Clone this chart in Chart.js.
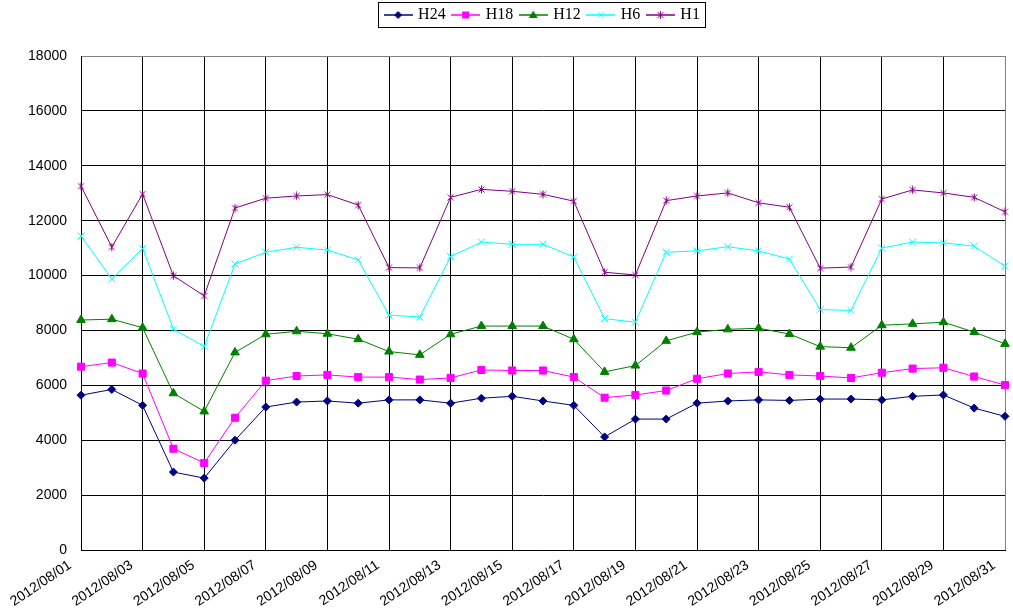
<!DOCTYPE html>
<html>
<head>
<meta charset="utf-8">
<script src="https://cdn.jsdelivr.net/npm/chart.js@4.4.0/dist/chart.umd.min.js"></script>
<style>
html, body { margin: 0; padding: 0; background: #fff; }
#wrap { width: 1013px; height: 613px; position: relative; }
</style>
</head>
<body>
<div id="wrap"><canvas id="chart"></canvas></div>
<script>
var days = ['2012/08/01', '2012/08/02', '2012/08/03', '2012/08/04', '2012/08/05', '2012/08/06',
    '2012/08/07', '2012/08/08', '2012/08/09', '2012/08/10', '2012/08/11', '2012/08/12',
    '2012/08/13', '2012/08/14', '2012/08/15', '2012/08/16', '2012/08/17', '2012/08/18',
    '2012/08/19', '2012/08/20', '2012/08/21', '2012/08/22', '2012/08/23', '2012/08/24',
    '2012/08/25', '2012/08/26', '2012/08/27', '2012/08/28', '2012/08/29', '2012/08/30',
    '2012/08/31'];

var h24 = [5640, 5850, 5270, 2840, 2620, 4000, 5210, 5390, 5430, 5350, 5470, 5470, 5350, 5530, 5600, 5430,
    5270, 4120, 4770, 4770, 5350, 5430, 5470, 5450, 5500, 5500, 5470, 5600, 5650, 5170, 4870];
var h18 = [6680, 6830, 6430, 3690, 3170, 4820, 6170, 6340, 6380, 6300, 6300, 6210, 6270, 6560, 6540, 6540,
    6300, 5550, 5650, 5810, 6240, 6430, 6490, 6380, 6340, 6270, 6460, 6610, 6640, 6320, 6010];
var h12 = [8380, 8410, 8100, 5710, 5050, 7200, 7860, 7970, 7880, 7680, 7230, 7110, 7860, 8160, 8160, 8160,
    7680, 6490, 6720, 7620, 7940, 8040, 8080, 7870, 7410, 7370, 8190, 8240, 8300, 7940, 7510];
var h6 = [11440, 9880, 10990, 8050, 7410, 10420, 10850, 11030, 10930, 10570, 8560, 8490, 10690, 11220, 11140, 11140,
    10680, 8430, 8300, 10850, 10900, 11050, 10900, 10600, 8760, 8730, 11000, 11220, 11190, 11070, 10340];
var h1 = [13260, 11040, 12970, 9990, 9260, 12460, 12820, 12900, 12950, 12570, 10290, 10280, 12850, 13140, 13070, 12960,
    12710, 10120, 10020, 12730, 12900, 13010, 12650, 12490, 10270, 10310, 12790, 13120, 13010, 12850, 12320];

var yTicks = [0, 2000, 4000, 6000, 8000, 10000, 12000, 14000, 16000, 18000];

// draw one marker shape on a 2d context, centred at (cx, cy)
function drawMark(c, kind, color, cx, cy) {
    c.fillStyle = color;
    c.strokeStyle = color;
    c.lineWidth = 1;
    c.beginPath();
    if (kind === 'diamond') {
        c.moveTo(cx - 4, cy); c.lineTo(cx, cy - 4); c.lineTo(cx + 4, cy); c.lineTo(cx, cy + 4);
        c.closePath(); c.fill();
    } else if (kind === 'square') {
        c.fillRect(cx - 3.5, cy - 3.5, 7, 7);
    } else if (kind === 'triangle') {
        c.moveTo(cx, cy - 4.5); c.lineTo(cx + 4.5, cy + 3); c.lineTo(cx - 4.5, cy + 3);
        c.closePath(); c.fill();
    } else if (kind === 'x') {
        c.moveTo(cx - 3, cy - 3); c.lineTo(cx + 3, cy + 3);
        c.moveTo(cx + 3, cy - 3); c.lineTo(cx - 3, cy + 3);
        c.stroke();
    } else if (kind === 'star') {
        c.moveTo(cx - 3, cy - 3); c.lineTo(cx + 3, cy + 3);
        c.moveTo(cx + 3, cy - 3); c.lineTo(cx - 3, cy + 3);
        c.moveTo(cx, cy - 4); c.lineTo(cx, cy + 4);
        c.stroke();
    }
}

function legendIcon(kind, color) {
    var cv = document.createElement('canvas');
    cv.width = 29; cv.height = 12;
    var c = cv.getContext('2d');
    c.strokeStyle = color;
    c.lineWidth = 1.5;
    c.beginPath(); c.moveTo(0, 6); c.lineTo(29, 6); c.stroke();
    drawMark(c, kind, color, 14.5, 6);
    return cv;
}

function starPoint(color) {
    var cv = document.createElement('canvas');
    cv.width = 9; cv.height = 9;
    drawMark(cv.getContext('2d'), 'star', color, 4.5, 4.5);
    return cv;
}

var kinds = ['diamond', 'square', 'triangle', 'x', 'star'];
var colors = ['#000080', '#ff00ff', '#008000', '#00ffff', '#800080'];

// move the legend to the top, centre it over the plot area and box it
var legendBorder = {
    id: 'legendBorder',
    afterLayout: function (chart) {
        var lg = chart.legend;
        lg.left = chart.chartArea.left;
        lg.right = chart.chartArea.right;
        lg.top = -1;
        lg.bottom = lg.top + lg.height;
    },
    afterDraw: function (chart) {
        var boxes = chart.legend.legendHitBoxes;
        if (!boxes || !boxes.length) return;
        var last = boxes[boxes.length - 1];
        var l = Math.round(boxes[0].left) - 8;
        var r = Math.round(last.left + last.width) + 5;
        var t = Math.round(boxes[0].top) - 5;
        var b = Math.round(boxes[0].top + boxes[0].height) + 4;
        var ctx = chart.ctx;
        ctx.save();
        ctx.strokeStyle = '#000';
        ctx.lineWidth = 1;
        ctx.strokeRect(l + 0.5, t + 0.5, r - l, b - t);
        ctx.restore();
    }
};

var ctx = document.getElementById('chart').getContext('2d');

new Chart(ctx, {
    type: 'line',
    data: {
        labels: days,
        datasets: [{
            label: 'H24', data: h24, borderColor: colors[0], backgroundColor: colors[0],
            pointStyle: 'rectRot', pointRadius: 4
        }, {
            label: 'H18', data: h18, borderColor: colors[1], backgroundColor: colors[1],
            pointStyle: 'rect', pointRadius: 5
        }, {
            label: 'H12', data: h12, borderColor: colors[2], backgroundColor: colors[2],
            pointStyle: 'triangle', pointRadius: 5
        }, {
            label: 'H6', data: h6, borderColor: colors[3], backgroundColor: colors[3],
            pointStyle: 'crossRot', pointRadius: 5
        }, {
            label: 'H1', data: h1, borderColor: colors[4], backgroundColor: colors[4],
            pointStyle: starPoint(colors[4])
        }]
    },
    options: {
        responsive: true,
        maintainAspectRatio: false,
        animation: false,
        layout: { padding: { top: 0, right: 0, left: 0, bottom: 0 } },
        elements: {
            line: { borderWidth: 1, tension: 0, fill: false },
            point: { borderWidth: 1, hoverRadius: 5 }
        },
        plugins: {
            tooltip: { enabled: false },
            legend: {
                position: 'top',
                labels: {
                    usePointStyle: true,
                    pointStyleWidth: 24,
                    padding: 8,
                    color: '#000',
                    font: { family: '"Liberation Serif", serif', size: 16 },
                    generateLabels: function (chart) {
                        return chart.data.datasets.map(function (ds, i) {
                            return {
                                text: ds.label,
                                pointStyle: legendIcon(kinds[i], colors[i]),
                                fillStyle: colors[i],
                                strokeStyle: colors[i],
                                lineWidth: 0,
                                fontColor: '#000',
                                hidden: false,
                                datasetIndex: i
                            };
                        });
                    }
                }
            }
        },
        scales: {
            x: {
                offset: false,
                grid: {
                    drawTicks: false,
                    color: function (c) {
                        if (c.index % 2 !== 0) return 'rgba(0,0,0,0)';
                        return c.index === days.length - 1 ? '#808080' : '#000';
                    }
                },
                border: { color: '#000' },
                ticks: {
                    autoSkip: false,
                    minRotation: 34,
                    maxRotation: 34,
                    padding: 7,
                    labelOffset: -11,
                    color: '#000',
                    font: { family: '"Liberation Sans", sans-serif', size: 14 },
                    callback: function (v, i) { return i % 2 === 0 ? days[i] : ''; }
                },
                afterFit: function (scale) {
                    scale.height = 63;
                    scale.paddingLeft = 0;
                    scale.paddingRight = 8;
                }
            },
            y: {
                min: 0,
                max: 18000,
                grid: {
                    drawTicks: false,
                    color: function (c) { return c.tick && c.tick.value === 18000 ? '#808080' : '#000'; }
                },
                border: { color: '#000' },
                ticks: {
                    stepSize: 2000,
                    padding: 14,
                    color: '#000',
                    font: { family: '"Liberation Sans", sans-serif', size: 14 },
                    callback: function (v) { return yTicks.indexOf(v) >= 0 ? String(v) : ''; }
                },
                afterFit: function (scale) {
                    scale.width = 81;
                    scale.paddingTop = 56;
                }
            }
        }
    },
    plugins: [legendBorder]
});
</script>
</body>
</html>
